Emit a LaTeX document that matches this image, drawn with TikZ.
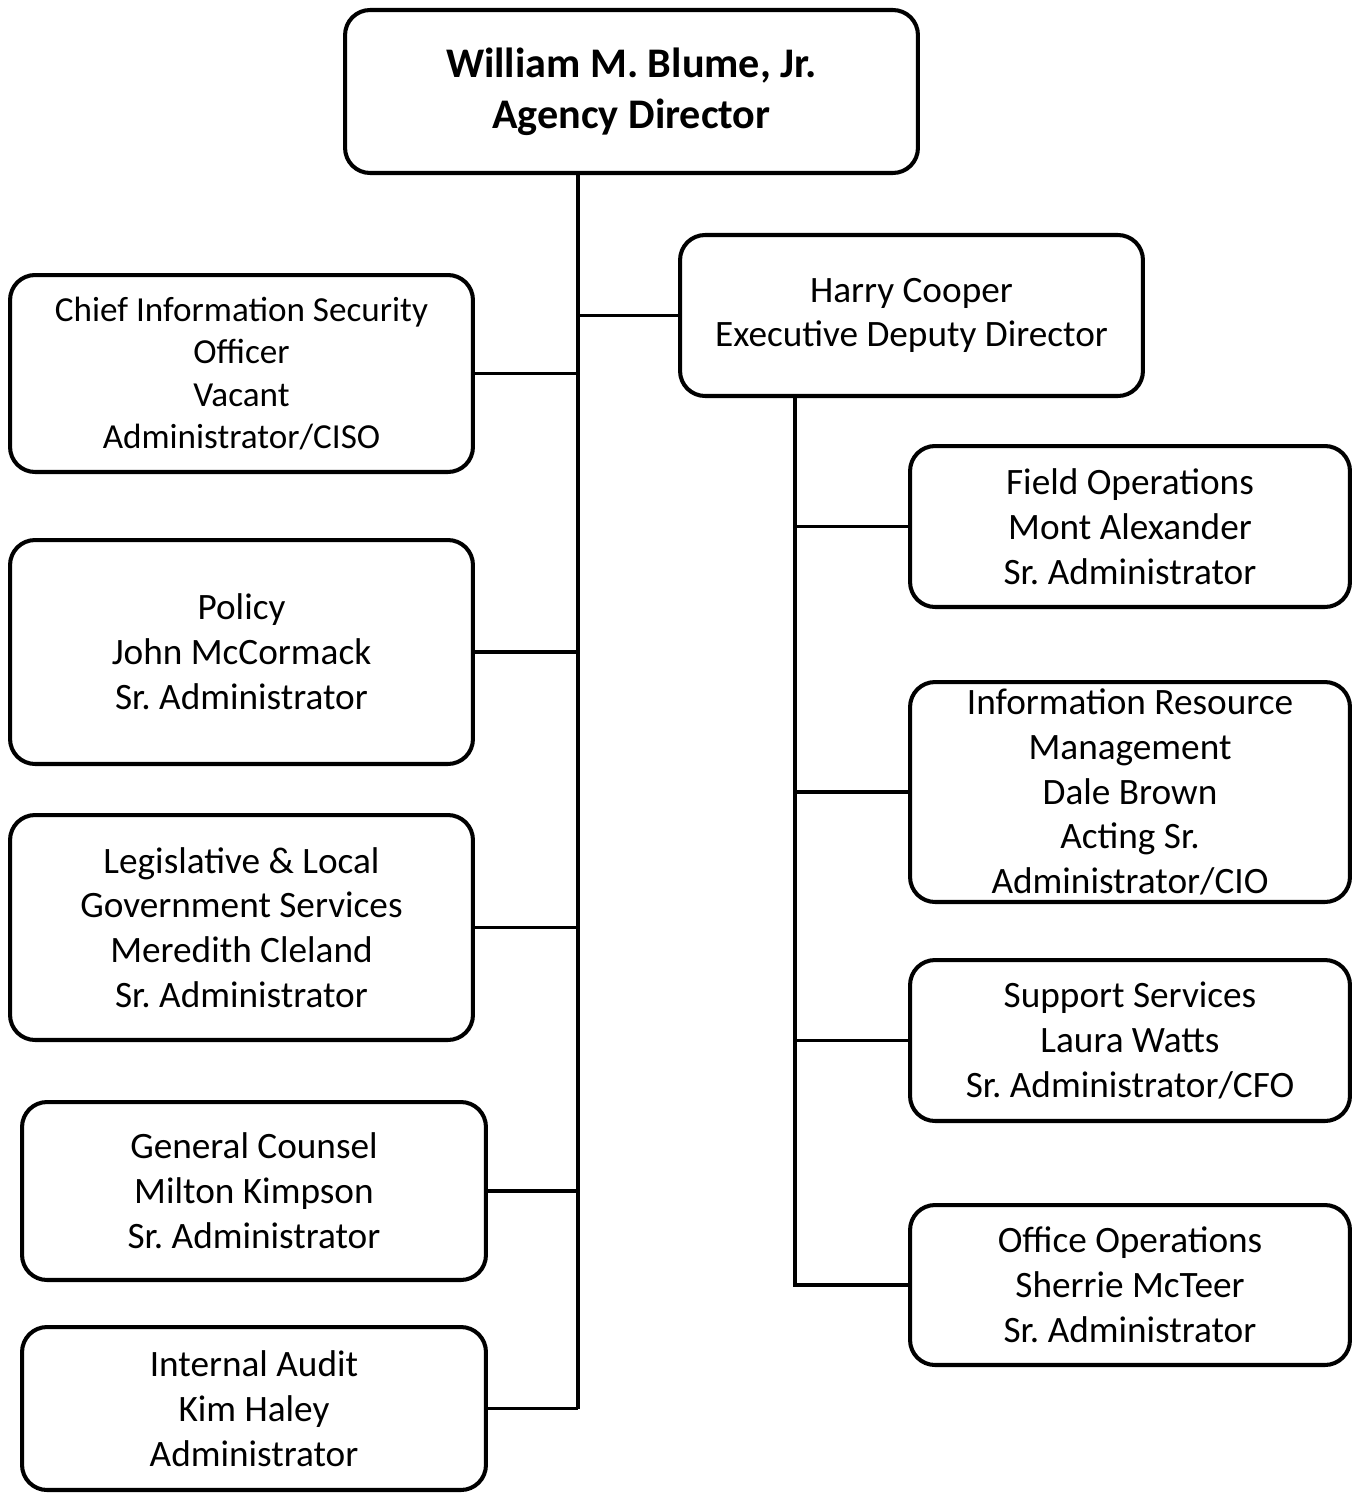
\documentclass[tikz,border=0pt]{standalone}
\usepackage{fontspec}
\setmainfont{Carlito}
\frenchspacing
\begin{document}
\begin{tikzpicture}[x=0.02cm,y=-0.02cm,
  box/.style={draw, line width=2.3pt, rounded corners=0.5cm, align=center, inner sep=0pt,
    font=\fontsize{21.2}{25.5}\selectfont},
  conn/.style={line width=1.8pt}]
\useasboundingbox (0,0) rectangle (1359,1497);
\node[box, minimum width=11.46cm, minimum height=3.26cm, font=\fontsize{24}{29}\selectfont\bfseries] (dir) at (631.5,91.5) {William M. Blume, Jr.\\Agency Director};
\node[box, minimum width=9.26cm, minimum height=3.22cm] (harry) at (911.5,315.5) {Harry Cooper\\Executive Deputy Director};
\node[box, minimum width=9.26cm, minimum height=3.94cm, font=\fontsize{20}{24}\selectfont] (ciso) at (241.5,373.5) {Chief Information Security\\Officer\\Vacant\\Administrator/CISO};
\node[box, minimum width=9.26cm, minimum height=4.48cm] (policy) at (241.5,652) {Policy\\John McCormack\\Sr. Administrator};
\node[box, minimum width=9.26cm, minimum height=4.5cm] (legis) at (241.5,927.5) {Legislative \& Local\\Government Services\\Meredith Cleland\\Sr. Administrator};
\node[box, minimum width=9.28cm, minimum height=3.56cm] (gc) at (254,1191) {General Counsel\\Milton Kimpson\\Sr. Administrator};
\node[box, minimum width=9.28cm, minimum height=3.26cm] (ia) at (254,1408.5) {Internal Audit\\Kim Haley\\Administrator};
\node[box, minimum width=8.8cm, minimum height=3.22cm] (field) at (1130,526.5) {Field Operations\\Mont Alexander\\Sr. Administrator};
\node[box, minimum width=8.8cm, minimum height=4.4cm] (irm) at (1130,792) {Information Resource\\Management\\Dale Brown\\Acting Sr.\\Administrator/CIO};
\node[box, minimum width=8.8cm, minimum height=3.22cm] (supp) at (1130,1040.5) {Support Services\\Laura Watts\\Sr. Administrator/CFO};
\node[box, minimum width=8.8cm, minimum height=3.2cm] (office) at (1130,1285) {Office Operations\\Sherrie McTeer\\Sr. Administrator};
\coordinate (spine) at (578,0);
\coordinate (rspine) at (795,0);
\coordinate (spineBot) at (578,1408.5);
\draw[conn] (dir.south -| spine) -- (spineBot);
\draw[conn] (harry.west) -- (harry.west -| spine);
\draw[conn] (ciso.east) -- (ciso.east -| spine);
\draw[conn] (policy.east) -- (policy.east -| spine);
\draw[conn] (legis.east) -- (legis.east -| spine);
\draw[conn] (gc.east) -- (gc.east -| spine);
\draw[conn] (ia.east) -- (spineBot);
\draw[conn] (harry.south -| rspine) |- (office.west);
\draw[conn] (field.west) -- (field.west -| rspine);
\draw[conn] (irm.west) -- (irm.west -| rspine);
\draw[conn] (supp.west) -- (supp.west -| rspine);
\end{tikzpicture}
\end{document}
